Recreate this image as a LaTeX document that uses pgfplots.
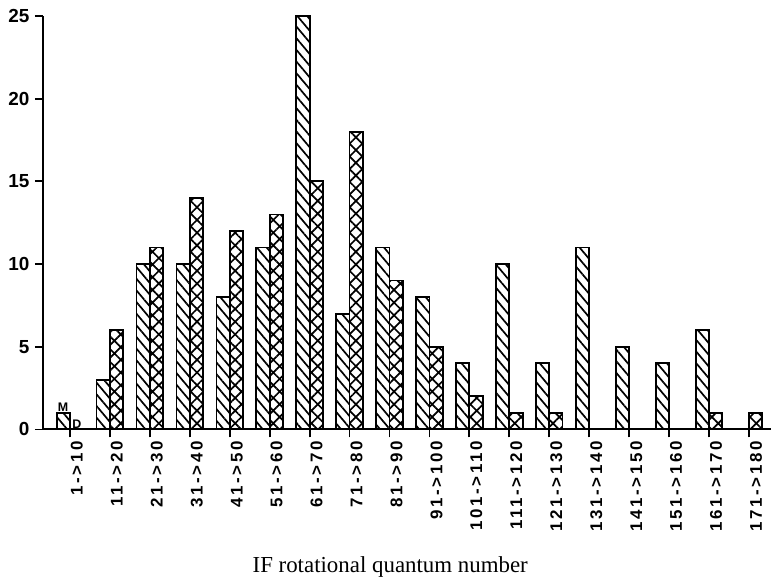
\documentclass[border=0pt]{standalone}
\usepackage{fontspec}
\setmainfont{Liberation Serif}
\newfontfamily\plotfont[LetterSpace=16]{Liberation Sans}
\newfontfamily\numfont{Liberation Sans}
\usepackage{pgfplots}
\pgfplotsset{compat=1.18}
\usetikzlibrary{patterns.meta}

\begin{document}
\begin{tikzpicture}
\begin{axis}[
  scale only axis,
  width=729bp, height=414bp,
  xmin=-0.675, xmax=17.55,
  ymin=0, ymax=25,
  axis x line*=bottom,
  axis y line*=left,
  axis line style={-, line width=2bp},
  ytick={0,5,10,15,20,25},
  xtick={0,...,17},
  xticklabels={1->10,11->20,21->30,31->40,41->50,51->60,61->70,71->80,81->90,
    91->100,101->110,111->120,121->130,131->140,141->150,151->160,161->170,171->180},
  tick align=outside,
  major tick length=8bp,
  tick style={line width=1.8bp, black},
  /pgf/number format/assume math mode=true,
  yticklabel style={font=\fontsize{19}{21}\selectfont\numfont\bfseries, xshift=-2bp},
  xticklabel style={font=\fontsize{17}{19}\selectfont\plotfont\bfseries, rotate=90, anchor=east, yshift=-7bp},
  xlabel={IF rotational quantum number},
  xlabel style={font=\fontsize{23}{27}\selectfont, at={(axis description cs:0.477,0)}, anchor=base, yshift=-143bp},
  ybar,
  bar width=13.3bp,
  clip=false,
]
% M: single hatching, left bar of each pair
\addplot[draw=black, line width=1.8bp, bar shift=-6.65bp,
  pattern={Lines[angle=-50, distance=7.5bp, line width=1.7bp]}, pattern color=black]
  coordinates {(0,1) (1,3) (2,10) (3,10) (4,8) (5,11) (6,25) (7,7) (8,11) (9,8)
    (10,4) (11,10) (12,4) (13,11) (14,5) (15,4) (16,6)};
% D: cross hatching, right bar of each pair
\addplot[draw=black, line width=1.8bp, bar shift=6.65bp,
  pattern={Hatch[angle=45, distance=9bp, line width=1.7bp]}, pattern color=black]
  coordinates {(1,6) (2,11) (3,14) (4,12) (5,13) (6,15) (7,18) (8,9) (9,5)
    (10,2) (11,1) (12,1) (16,1) (17,1)};
\node[font=\fontsize{12.5}{12.5}\selectfont\numfont\bfseries, above, inner sep=1.5bp] at (axis cs:-0.17,1) {M};
\node[font=\fontsize{12.5}{12.5}\selectfont\numfont\bfseries, above right, inner sep=1bp] at (axis cs:0.03,0) {D};
\end{axis}
% page extent around the axis
\path ([shift={(-43bp,-153bp)}]current axis.south west) rectangle ([shift={(0bp,16bp)}]current axis.north east);
\end{tikzpicture}
\end{document}
